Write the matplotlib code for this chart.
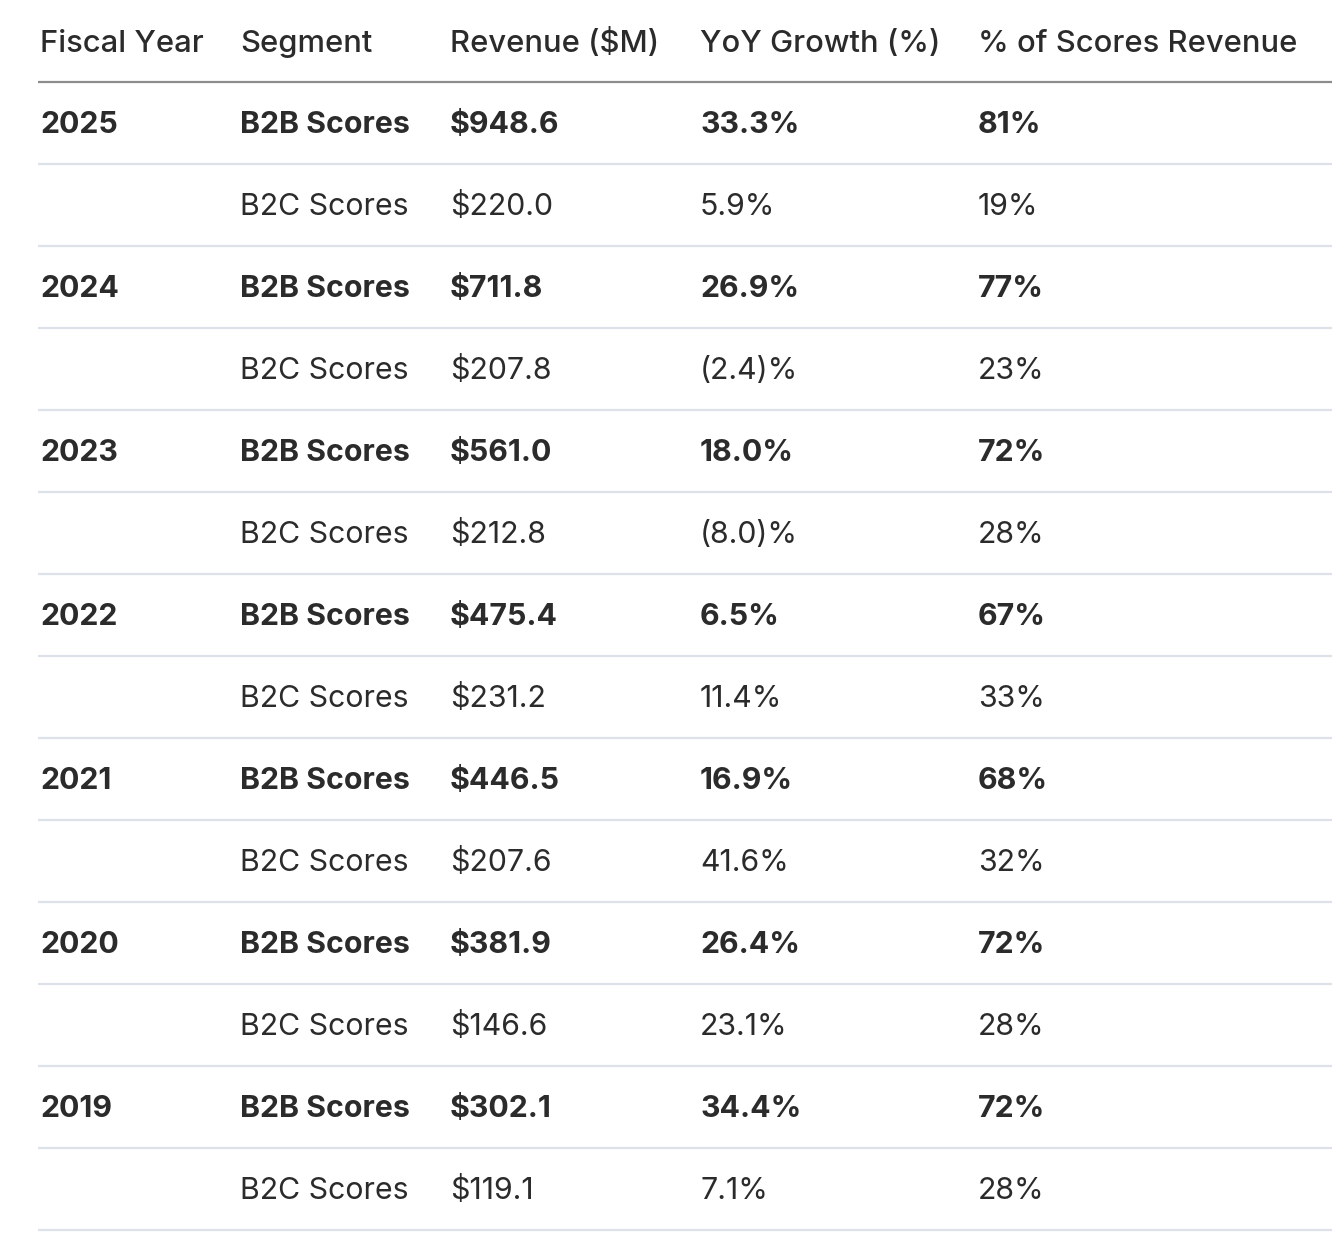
import matplotlib.pyplot as plt

plt.rcParams['font.family'] = ['Inter', 'DejaVu Sans']

headers = ["Fiscal Year", "Segment", "Revenue ($M)", "YoY Growth (%)", "% of Scores Revenue"]
years = ["2025", "2024", "2023", "2022", "2021", "2020", "2019"]
b2b_revenue = ["$948.6", "$711.8", "$561.0", "$475.4", "$446.5", "$381.9", "$302.1"]
b2b_growth = ["33.3%", "26.9%", "18.0%", "6.5%", "16.9%", "26.4%", "34.4%"]
b2b_share = ["81%", "77%", "72%", "67%", "68%", "72%", "72%"]
b2c_revenue = ["$220.0", "$207.8", "$212.8", "$231.2", "$207.6", "$146.6", "$119.1"]
b2c_growth = ["5.9%", "(2.4)%", "(8.0)%", "11.4%", "41.6%", "23.1%", "7.1%"]
b2c_share = ["19%", "23%", "28%", "33%", "32%", "28%", "28%"]

W, H = 1332, 1234
col_x = [40, 240, 450, 700, 978]
header_base = 52
row_h = 82
first_base = 133
text_color = "#2b2b2b"

fig = plt.figure(figsize=(W / 100, H / 100), dpi=100)
ax = fig.add_axes([0, 0, 1, 1])
ax.set_xlim(0, W)
ax.set_ylim(H, 0)
ax.axis("off")

# header row + darker rule under it
for x, h in zip(col_x, headers):
    ax.text(x, header_base, h, fontsize=22.3, fontweight="medium", color=text_color,
            va="baseline", ha="left")
ax.hlines(82, 38, W, color="#8c8c8c", lw=1.6)

rows = []
for i, yr in enumerate(years):
    rows.append(([yr, "B2B Scores", b2b_revenue[i], b2b_growth[i], b2b_share[i]], True))
    rows.append((["", "B2C Scores", b2c_revenue[i], b2c_growth[i], b2c_share[i]], False))

for r, (cells, bold) in enumerate(rows):
    y = first_base + r * row_h
    for x, c in zip(col_x, cells):
        ax.text(x, y, c, fontsize=21.8, fontweight="bold" if bold else "normal",
                color=text_color, va="baseline", ha="left")
    ax.hlines(164 + r * row_h, 38, W, color="#dde2ea", lw=1.6)

fig.savefig("out.png", dpi=100, facecolor="white")
